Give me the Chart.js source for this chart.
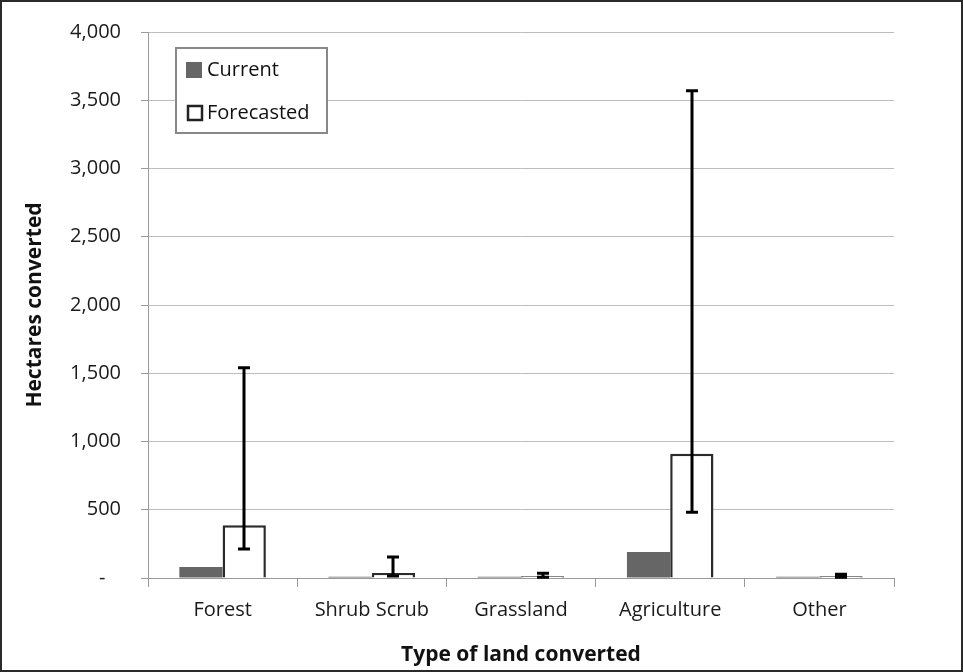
<!DOCTYPE html>
<html>
<head>
<meta charset="utf-8">
<script src="https://cdn.jsdelivr.net/npm/chart.js@4"></script>
<style>
  html, body { margin: 0; padding: 0; background: #fff; }
  #wrap { position: relative; width: 963px; height: 672px; }
  #c { position: absolute; left: 0; top: 0; }
  #frame { position: absolute; left: 0; top: 0; width: 963px; height: 672px; box-sizing: border-box; border: 2px solid #2a2a2a; pointer-events: none; }
</style>
</head>
<body>
<div id="wrap">
  <canvas id="c" width="963" height="672"></canvas>
  <div id="frame"></div>
</div>
<script>
const categories = ["Forest", "Shrub Scrub", "Grassland", "Agriculture", "Other"];
const currentValues = [80, 10, 10, 190, 10];
const forecastValues = [387, 37, 12, 910, 12];
const forecastErrLow = [212, 15, 5, 482, 5];
const forecastErrHigh = [1540, 153, 35, 3570, 28];
const yTicks = [0, 500, 1000, 1500, 2000, 2500, 3000, 3500, 4000];
const seriesNames = ["Current", "Forecasted"];

const FONT = "'Open Sans', Lato, sans-serif";

const errorBarPlugin = {
  id: 'errorBars',
  afterDatasetsDraw(chart) {
    const ctx = chart.ctx;
    const meta = chart.getDatasetMeta(1);
    const yScale = chart.scales.y;
    ctx.save();
    ctx.strokeStyle = '#000';
    ctx.lineWidth = 3;
    meta.data.forEach((bar, i) => {
      const x = Math.round(bar.x);
      const yH = yScale.getPixelForValue(forecastErrHigh[i]);
      const yL = yScale.getPixelForValue(forecastErrLow[i]);
      ctx.beginPath();
      ctx.moveTo(x, yH); ctx.lineTo(x, yL);
      ctx.moveTo(x - 6, yH); ctx.lineTo(x + 6, yH);
      ctx.moveTo(x - 6, yL); ctx.lineTo(x + 6, yL);
      ctx.stroke();
    });
    ctx.restore();
  }
};

const legendPlugin = {
  id: 'boxLegend',
  afterDraw(chart) {
    const ctx = chart.ctx;
    const a = chart.chartArea;
    const bx = a.left + 28, by = a.top + 16, bw = 151, bh = 85;
    ctx.save();
    ctx.fillStyle = '#fff';
    ctx.fillRect(bx, by, bw, bh);
    ctx.strokeStyle = '#888';
    ctx.lineWidth = 2;
    ctx.strokeRect(bx, by, bw, bh);
    ctx.font = "20px " + FONT;
    ctx.textBaseline = 'middle';
    ctx.fillStyle = '#666';
    ctx.fillRect(bx + 10, by + 14, 16, 16);
    ctx.fillStyle = '#111';
    ctx.fillText(seriesNames[0], bx + 31, by + 22);
    ctx.strokeStyle = '#222';
    ctx.lineWidth = 2.5;
    ctx.strokeRect(bx + 12, by + 58, 14, 14);
    ctx.fillStyle = '#111';
    ctx.fillText(seriesNames[1], bx + 31, by + 65);
    ctx.restore();
  }
};

new Chart(document.getElementById('c'), {
  type: 'bar',
  data: {
    labels: categories,
    datasets: [
      { label: seriesNames[0], data: currentValues, backgroundColor: '#666666', borderWidth: 0 },
      { label: seriesNames[1], data: forecastValues, backgroundColor: '#ffffff', borderColor: '#2b2b2b', borderWidth: 2.5 }
    ]
  },
  options: {
    responsive: false,
    animation: false,
    devicePixelRatio: 1,
    layout: { padding: { left: 18, right: 69, top: 28, bottom: 2 } },
    datasets: { bar: { barPercentage: 1, categoryPercentage: 0.58 } },
    plugins: { legend: { display: false }, tooltip: { enabled: false } },
    scales: {
      x: {
        grid: { offset: true, drawOnChartArea: false, color: '#999', tickLength: 9 },
        border: { color: '#999', width: 1 },
        ticks: { color: '#1a1a1a', font: { family: FONT, size: 20 }, padding: 11 },
        title: { display: true, text: 'Type of land converted', color: '#111', font: { family: FONT, size: 21, weight: 'bold' }, padding: { top: 19, bottom: 2 } },
        afterFit(s) { s.height = 92; }
      },
      y: {
        min: 0, max: 4000,
        afterBuildTicks(s) { s.ticks = yTicks.map(v => ({ value: v })); },
        grid: { color: '#bdbdbd', tickColor: '#999', tickLength: 7 },
        border: { color: '#999', width: 1 },
        ticks: {
          color: '#1a1a1a', font: { family: FONT, size: 20 }, padding: 20,
          callback: v => v === 0 ? '-   ' : v.toLocaleString('en-US')
        },
        title: { display: true, text: 'Hectares converted', color: '#111', font: { family: FONT, size: 21, weight: 'bold' } },
        afterFit(s) { s.width = 130; }
      }
    }
  },
  plugins: [errorBarPlugin, legendPlugin]
});
</script>
</body>
</html>
